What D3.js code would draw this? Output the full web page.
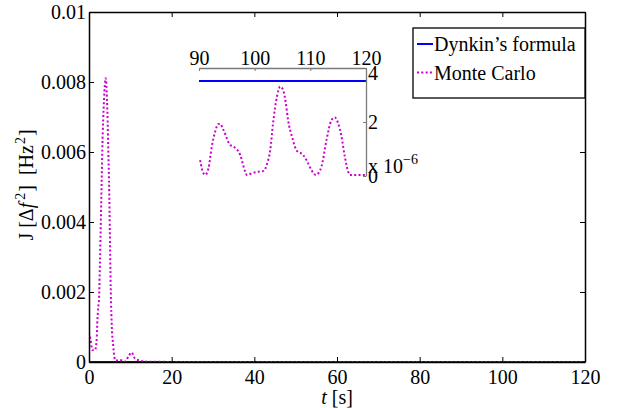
<!DOCTYPE html>
<html>
<head>
<meta charset="utf-8">
<script src="https://cdn.jsdelivr.net/npm/d3@7"></script>
<style>
  body { margin: 0; background: #fff; }
  svg text { font-family: "Liberation Serif", "DejaVu Serif", serif !important; fill: #000; }
</style>
</head>
<body>
<div id="chart"></div>
<script>
// Monte Carlo estimate, early transient (t in s, J in Hz^2)
const mcT = [0.24, 0.4, 0.8, 1.45, 1.85, 2.0, 2.25, 2.42, 2.49, 3.07, 3.22, 3.63, 4.04,
  4.36, 4.67, 4.84, 5.32, 5.49, 5.88, 6.12, 6.46, 7.5, 8.7, 9.5, 10.3, 11.1, 12.3,
  14, 20, 30, 40, 50, 60, 70, 80, 89];
const mcJ = [0.00072, 0.00063, 0.00034, 0.00034, 0.00063, 0.0011, 0.00158, 0.00177, 0.00206,
  0.0052, 0.00606, 0.00749, 0.00811, 0.00749, 0.00606, 0.0052, 0.00177, 0.0011, 0.00044,
  0.00015, 0.00004, 0.00006, 0.00001, 0.00015, 0.00027, 0.0001, 0.00004,
  0.00001, 0.000003, 0.000002, 0.000002, 0.000002, 0.000002, 0.000002, 0.000002, 0.000001];

// Monte Carlo estimate, tail shown in the inset (J in units of 1e-6)
const insetT = [90.2, 90.5, 91.1, 91.7, 92.3, 92.9, 93.5, 93.8, 94.4, 95.6, 96.2, 97.4, 98.3,
  98.6, 99.5, 100.7, 101.6, 102.3, 102.8, 103.3, 104.0, 104.6, 105.1, 105.6, 106.0, 106.7,
  107.5, 108.7, 109.3, 110.2, 111.0, 112.0, 112.9, 113.8, 114.4, 115.0, 115.6, 116.2,
  116.8, 117.1, 118.5, 119.8];
const insetJ = [0.59, 0.28, 0.04, 0.28, 1.09, 1.64, 1.93, 1.93, 1.70, 1.15, 1.09, 0.78, 0.16,
  0.04, 0.10, 0.16, 0.19, 0.50, 0.96, 1.95, 2.94, 3.31, 3.19, 2.69, 2.07, 1.46,
  0.96, 0.78, 0.59, 0.22, 0.04, 0.35, 1.33, 2.07, 2.17, 1.95, 1.46, 0.71,
  0.16, 0.04, 0.04, 0.04];

// Dynkin's formula: constant value (units of 1e-6)
const dynkinT = [0, 120];
const dynkinJ = [3.52, 3.52];

const xTicks = [0, 20, 40, 60, 80, 100, 120];
const yTicks = [0, 0.002, 0.004, 0.006, 0.008, 0.01];
const yTickLabels = ['0', '0.002', '0.004', '0.006', '0.008', '0.01'];
const insetXTicks = [90, 100, 110, 120];
const insetYTicks = [0, 2, 4];
const legendLabels = ['Dynkin\u2019s formula', 'Monte Carlo'];

const W = 620, H = 408;
const blue = '#0000ff', magenta = '#cc00cc';
const dots = '2,2.3';
const serif = '"Liberation Serif", "DejaVu Serif", serif';

const svg = d3.select('#chart').append('svg')
  .attr('width', W).attr('height', H);

const x = d3.scaleLinear().domain([0, 120]).range([89, 585]);
const y = d3.scaleLinear().domain([0, 0.01]).range([362, 12]);

// main series
const mainMC = mcT.map((t, i) => [t, mcJ[i]])
  .concat(insetT.map((t, i) => [t, insetJ[i] * 1e-6]));
const mainDyn = dynkinT.map((t, i) => [t, dynkinJ[i] * 1e-6]);

const line = d3.line().x(d => x(d[0])).y(d => y(d[1])).curve(d3.curveMonotoneX);

svg.append('path').datum(mainDyn)
  .attr('fill', 'none').attr('stroke', blue).attr('stroke-width', 2)
  .attr('d', line);
svg.append('path').datum(mainMC)
  .attr('fill', 'none').attr('stroke', magenta).attr('stroke-width', 2)
  .attr('stroke-dasharray', dots)
  .attr('d', line);

// axes box with inward ticks
const axW = 1.5;
svg.append('g')
  .attr('transform', `translate(0,${y(0)})`)
  .call(d3.axisBottom(x).tickValues(xTicks).tickSizeInner(-5).tickSizeOuter(0).tickPadding(6))
  .attr('font-family', serif)
  .call(g => g.select('.domain').attr('stroke-width', axW))
  .call(g => g.selectAll('text').attr('font-size', 20).attr('dy', '0.78em'));
svg.append('g')
  .attr('transform', `translate(0,${y(0.01)})`)
  .call(d3.axisTop(x).tickValues(xTicks).tickSizeInner(-5).tickSizeOuter(0).tickFormat(''))
  .call(g => g.select('.domain').attr('stroke-width', axW));
svg.append('g')
  .attr('transform', `translate(${x(0)},0)`)
  .call(d3.axisLeft(y).tickValues(yTicks).tickSizeInner(-5).tickSizeOuter(0).tickPadding(3)
    .tickFormat((d, i) => yTickLabels[i]))
  .attr('font-family', serif)
  .call(g => g.select('.domain').attr('stroke-width', axW))
  .call(g => g.selectAll('text').attr('font-size', 20));
svg.append('g')
  .attr('transform', `translate(${x(120)},0)`)
  .call(d3.axisRight(y).tickValues(yTicks).tickSizeInner(-5).tickSizeOuter(0).tickFormat(''))
  .call(g => g.select('.domain').attr('stroke-width', axW));

// axis labels
const xl = svg.append('text')
  .attr('x', (x(0) + x(120)) / 2).attr('y', 404)
  .attr('text-anchor', 'middle').attr('font-size', 20)
  .style('white-space', 'pre');
xl.append('tspan').attr('font-style', 'italic').text('t');
xl.append('tspan').text(' [s]');

const yl = svg.append('text')
  .attr('transform', `translate(33,${(y(0) + y(0.01)) / 2 - 2}) rotate(-90)`)
  .attr('text-anchor', 'middle').attr('font-size', 20)
  .style('white-space', 'pre');
yl.append('tspan').text('J [\u0394');
yl.append('tspan').attr('font-style', 'italic').text('f');
yl.append('tspan').attr('font-size', 14).attr('dx', 3).attr('dy', -8).text('2');
yl.append('tspan').attr('dx', 1).attr('dy', 8).text(']  [Hz');
yl.append('tspan').attr('font-size', 14).attr('dx', 1).attr('dy', -8).text('2');
yl.append('tspan').attr('dx', 1).attr('dy', 8).text(']');

// inset
const ix = d3.scaleLinear().domain([90, 120]).range([199, 366]);
const iy = d3.scaleLinear().domain([0, 4]).range([176, 68]);
const iline = d3.line().x(d => ix(d[0])).y(d => iy(d[1])).curve(d3.curveMonotoneX);
const inset = svg.append('g');
const grey = '#7a7a7a';

inset.append('path').datum(dynkinT.map((t, i) => [t < 90 ? 90 : t, dynkinJ[i]]))
  .attr('fill', 'none').attr('stroke', blue).attr('stroke-width', 2)
  .attr('d', iline);
inset.append('path').datum(insetT.map((t, i) => [t, insetJ[i]]))
  .attr('fill', 'none').attr('stroke', magenta).attr('stroke-width', 2)
  .attr('stroke-dasharray', dots)
  .attr('d', iline);

inset.append('g')
  .attr('transform', `translate(0,${iy(4)})`)
  .call(d3.axisTop(ix).tickValues(insetXTicks).tickSizeInner(-3).tickSizeOuter(0).tickPadding(3)
    .tickFormat(d3.format('d')))
  .attr('font-family', serif)
  .call(g => g.select('.domain').attr('stroke', grey).attr('stroke-width', 1.3))
  .call(g => g.selectAll('.tick line').attr('stroke', grey))
  .call(g => g.selectAll('text').attr('font-size', 20));
inset.append('g')
  .attr('transform', `translate(${ix(120)},0)`)
  .call(d3.axisRight(iy).tickValues(insetYTicks).tickSizeInner(-3).tickSizeOuter(0).tickPadding(2)
    .tickFormat(d3.format('d')))
  .attr('font-family', serif)
  .call(g => g.select('.domain').attr('stroke', grey).attr('stroke-width', 1.3))
  .call(g => g.selectAll('.tick line').attr('stroke', grey))
  .call(g => g.selectAll('text').attr('font-size', 20)
    .attr('dy', d => d === 4 ? '0.55em' : '0.32em'));

const exp = inset.append('text')
  .attr('x', 368).attr('y', 172.5).attr('font-size', 20)
  .style('white-space', 'pre');
exp.append('tspan').text('x 10');
exp.append('tspan').attr('font-size', 14).attr('dy', -9).text('\u22126');

// legend
const leg = svg.append('g');
leg.append('rect')
  .attr('x', 413).attr('y', 28).attr('width', 172).attr('height', 70)
  .attr('fill', '#fff').attr('stroke', '#000').attr('stroke-width', 1.3);
const legColors = [blue, magenta];
legendLabels.forEach((lab, i) => {
  const ly = 44 + i * 28.5;
  leg.append('line')
    .attr('x1', 417).attr('x2', 433).attr('y1', ly).attr('y2', ly)
    .attr('stroke', legColors[i]).attr('stroke-width', 2)
    .attr('stroke-dasharray', i === 1 ? dots : null);
  leg.append('text')
    .attr('x', 434).attr('y', ly + 7).attr('font-size', 20)
    .text(lab);
});
</script>
</body>
</html>
